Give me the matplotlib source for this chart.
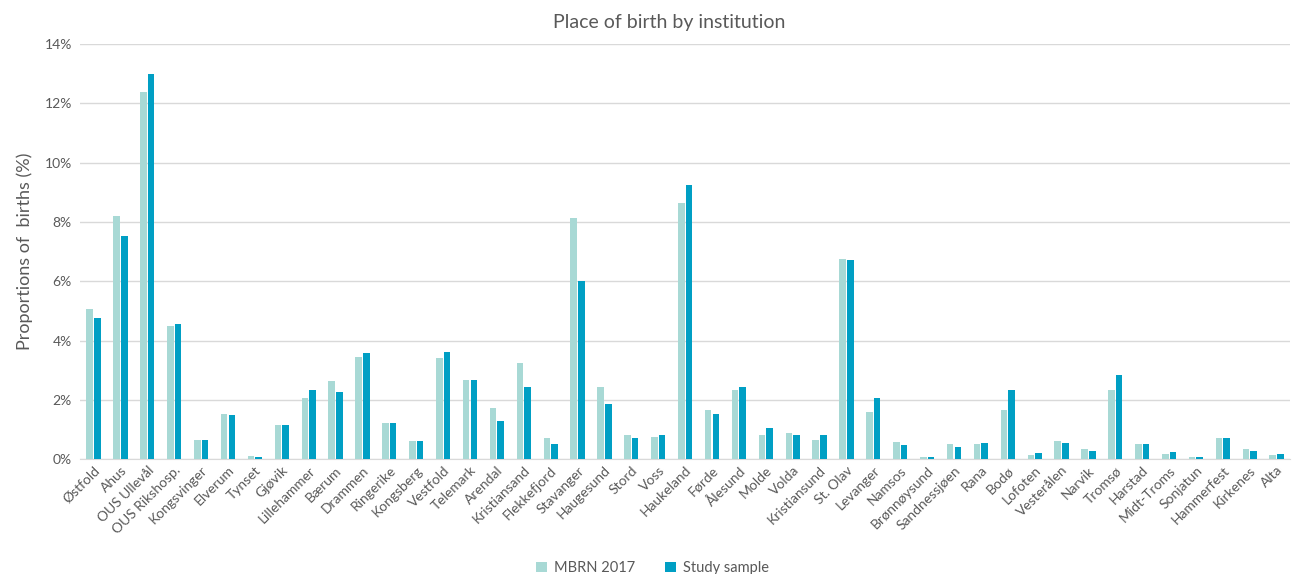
import numpy as np
import matplotlib
matplotlib.use("Agg")
import matplotlib.pyplot as plt
from matplotlib.ticker import FuncFormatter

plt.rcParams['font.family'] = ['Lato', 'DejaVu Sans']

institutions = ['Østfold', 'Ahus', 'OUS Ullevål', 'OUS Rikshosp.', 'Kongsvinger',
                'Elverum', 'Tynset', 'Gjøvik', 'Lillehammer', 'Bærum', 'Drammen',
                'Ringerike', 'Kongsberg', 'Vestfold', 'Telemark', 'Arendal',
                'Kristiansand', 'Flekkefjord', 'Stavanger', 'Haugesund', 'Stord',
                'Voss', 'Haukeland', 'Førde', 'Ålesund', 'Molde', 'Volda',
                'Kristiansund', 'St. Olav', 'Levanger', 'Namsos', 'Brønnøysund',
                'Sandnessjøen', 'Rana', 'Bodø', 'Lofoten', 'Vesterålen', 'Narvik',
                'Tromsø', 'Harstad', 'Midt-Troms', 'Sonjatun', 'Hammerfest',
                'Kirkenes', 'Alta']

mbrn_2017 = [5.08, 8.20, 12.39, 4.48, 0.66, 1.53, 0.10, 1.17, 2.05, 2.64, 3.45,
             1.23, 0.60, 3.42, 2.68, 1.72, 3.23, 0.73, 8.15, 2.43, 0.83, 0.75,
             8.63, 1.65, 2.32, 0.82, 0.90, 0.64, 6.75, 1.58, 0.59, 0.06, 0.50,
             0.51, 1.65, 0.15, 0.60, 0.33, 2.35, 0.52, 0.17, 0.06, 0.71, 0.34,
             0.14]

study_sample = [4.76, 7.53, 12.99, 4.57, 0.65, 1.50, 0.07, 1.17, 2.34, 2.26, 3.58,
                1.23, 0.61, 3.60, 2.68, 1.28, 2.45, 0.52, 6.01, 1.86, 0.71, 0.83,
                9.25, 1.51, 2.42, 1.04, 0.81, 0.83, 6.73, 2.07, 0.47, 0.07, 0.42,
                0.56, 2.35, 0.20, 0.56, 0.29, 2.85, 0.52, 0.23, 0.06, 0.71, 0.27,
                0.19]

light = '#A8D9D5'
dark = '#009FC4'
grey = '#595959'

fig = plt.figure(figsize=(12.92, 5.74), dpi=100)
ax = fig.add_axes([0.062, 0.2, 0.9365, 0.7233])

x = np.arange(len(institutions))
w = 0.245
ax.bar(x - w / 2 - 0.02, mbrn_2017, width=w, color=light, label='MBRN 2017', zorder=3)
ax.bar(x + w / 2 + 0.02, study_sample, width=w, color=dark, label='Study sample', zorder=3)

ax.set_xlim(-0.5, len(institutions) - 0.5)
ax.set_ylim(0, 14)
ax.set_yticks(np.arange(0, 15, 2))
ax.yaxis.set_major_formatter(FuncFormatter(lambda v, p: '%d%%' % v))
ax.grid(axis='y', color='#D9D9D9', linewidth=1, zorder=0)
for s in ['top', 'right', 'left']:
    ax.spines[s].set_visible(False)
ax.spines['bottom'].set_color('#D9D9D9')
ax.tick_params(axis='both', length=0, colors=grey, labelsize=10)
ax.tick_params(axis='y', pad=6)

ax.set_xticks(x)
ax.set_xticklabels(institutions, rotation=45, ha='right', rotation_mode='anchor')

ax.set_ylabel('Proportions of  births (%)', color=grey, fontsize=13, labelpad=8)
fig.suptitle('Place of birth by institution', color=grey, fontsize=14,
             x=0.518, y=0.975)

fig.legend(loc='lower center', bbox_to_anchor=(0.505, -0.025), ncol=2, frameon=False,
           handlelength=0.75, handleheight=0.75, handletextpad=0.5,
           columnspacing=2.0, labelcolor=grey, fontsize=10.5)

fig.savefig('out.png', dpi=100)
